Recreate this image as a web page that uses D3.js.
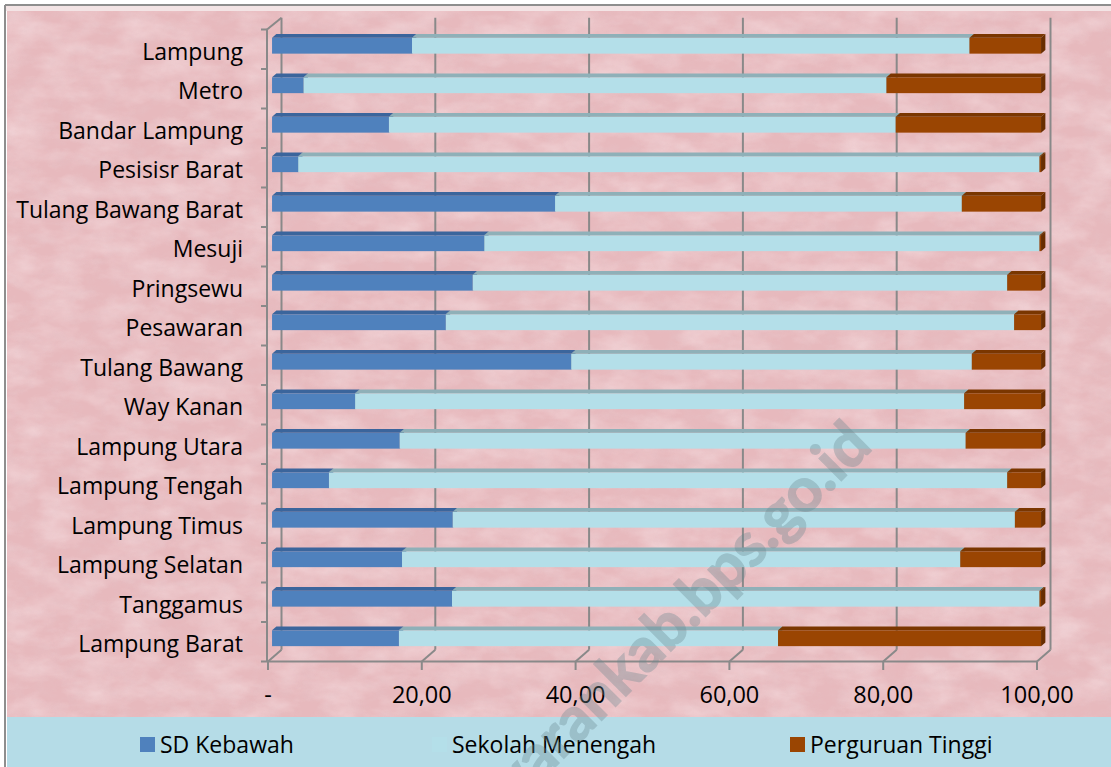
<!DOCTYPE html>
<html>
<head>
<meta charset="utf-8">
<script src="https://cdn.jsdelivr.net/npm/d3@7"></script>
<style>
  html, body { margin: 0; padding: 0; background: #ffffff; }
  svg { display: block; }
  text { font-family: "Open Sans", Lato, sans-serif; fill: #000; }
</style>
</head>
<body>
<svg id="chart" width="1111" height="767"></svg>
<script>
// Education level composition per regency/city (percent)
const categories = [
  "Lampung", "Metro", "Bandar Lampung", "Pesisisr Barat", "Tulang Bawang Barat",
  "Mesuji", "Pringsewu", "Pesawaran", "Tulang Bawang ", "Way Kanan",
  "Lampung Utara", "Lampung Tengah", "Lampung Timus", "Lampung Selatan",
  "Tanggamus", "Lampung Barat"
];
const sdKebawah       = [18.2, 4.1, 15.2, 3.4, 36.8, 27.6, 26.1, 22.6, 38.9, 10.8, 16.6, 7.4, 23.5, 16.9, 23.4, 16.5];
const sekolahMenengah = [72.5, 75.8, 65.9, 96.4, 52.9, 72.2, 69.5, 73.9, 52.1, 79.2, 73.6, 88.2, 73.1, 72.6, 76.4, 49.3];
const perguruanTinggi = [ 9.3, 20.1, 18.9, 0.2, 10.3, 0.2, 4.4, 3.5, 9.0, 10.0, 9.8, 4.4, 3.4, 10.5, 0.2, 34.2];
const seriesNames = ["SD Kebawah", "Sekolah Menengah", "Perguruan Tinggi"];
const xTicks = [0, 20, 40, 60, 80, 100];
const xTickLabels = ["-", "20,00", "40,00", "60,00", "80,00", "100,00"];

const W = 1111, H = 767;
const svg = d3.select("#chart");

// colours: front face, top face, side face
const palette = [
  { front: "#4f81bd", top: "#3b659c", side: "#345a8c" },
  { front: "#b4dfe9", top: "#8fb0b8", side: "#7f9ea6" },
  { front: "#9a4502", top: "#7a3600", side: "#682d00" }
];

// ---- background: framed, textured pink panel + legend band ----
const defs = svg.append("defs");
const tex = defs.append("filter").attr("id", "marble")
  .attr("x", 0).attr("y", 0).attr("width", "100%").attr("height", "100%");
tex.append("feTurbulence").attr("type", "fractalNoise")
  .attr("baseFrequency", "0.025 0.05").attr("numOctaves", 4).attr("seed", 3).attr("result", "n");
tex.append("feColorMatrix").attr("in", "n").attr("type", "matrix")
  .attr("values", "0 0 0 0 0.97  0 0 0 0 0.85  0 0 0 0 0.87  1.3 0 0 0 -0.45");
const tex2 = defs.append("filter").attr("id", "grain")
  .attr("x", 0).attr("y", 0).attr("width", "100%").attr("height", "100%");
tex2.append("feTurbulence").attr("type", "fractalNoise")
  .attr("baseFrequency", "0.06 0.09").attr("numOctaves", 3).attr("seed", 11).attr("result", "n");
tex2.append("feColorMatrix").attr("in", "n").attr("type", "matrix")
  .attr("values", "0 0 0 0 0.78  0 0 0 0 0.55  0 0 0 0 0.58  1.2 0 0 0 -0.5");

const panel = { x: 7, y: 11, w: W - 7, h: 717 - 11 };
svg.append("rect").attr("x", panel.x).attr("y", panel.y).attr("width", panel.w).attr("height", panel.h)
  .attr("fill", "#e7b9bd");
svg.append("rect").attr("x", panel.x).attr("y", panel.y).attr("width", panel.w).attr("height", panel.h)
  .attr("fill", "#fff").attr("filter", "url(#marble)").attr("opacity", 0.6);
svg.append("rect").attr("x", panel.x).attr("y", panel.y).attr("width", panel.w).attr("height", panel.h)
  .attr("fill", "#fff").attr("filter", "url(#grain)").attr("opacity", 0.6);
svg.append("rect").attr("x", panel.x).attr("y", 717).attr("width", panel.w).attr("height", H - 717)
  .attr("fill", "#b5dce7");
svg.append("rect").attr("x", 5).attr("y", 5).attr("width", W).attr("height", 6).attr("fill", "#f3e4e5");
svg.append("line").attr("x1", 5).attr("x2", W).attr("y1", 5).attr("y2", 5)
  .attr("stroke", "#8e8e8e").attr("stroke-width", 2);
svg.append("line").attr("x1", 5).attr("x2", 5).attr("y1", 5).attr("y2", H)
  .attr("stroke", "#8e8e8e").attr("stroke-width", 2);

// ---- 3D plot geometry ----
const front = { left: 268, right: 1037, top: 29.5, bottom: 661.5 };
const depth = { dx: 13.5, dy: -11.7 };
const barDepth0 = 0.3, barDepth1 = 0.62;

const x = d3.scaleLinear().domain([0, 100]).range([front.left, front.right]);
const y = d3.scaleBand().domain(categories).range([front.top, front.bottom]).paddingInner(0.6).paddingOuter(0.3);
const yBand = d3.scaleBand().domain(categories).range([front.top, front.bottom]);

const grid = svg.append("g").attr("stroke", "#898989").attr("stroke-width", 2).attr("fill", "none");

// back wall gridlines
grid.selectAll("line.back").data(xTicks).join("line")
  .attr("x1", d => x(d) + depth.dx).attr("x2", d => x(d) + depth.dx)
  .attr("y1", front.top + depth.dy).attr("y2", front.bottom + depth.dy);
// floor edges from front ticks to back wall
grid.selectAll("line.floor").data(xTicks).join("line")
  .attr("x1", d => x(d)).attr("x2", d => x(d) + depth.dx)
  .attr("y1", front.bottom).attr("y2", front.bottom + depth.dy);
// front floor edge and ticks
grid.append("line").attr("x1", front.left - 1).attr("x2", front.right)
  .attr("y1", front.bottom).attr("y2", front.bottom);
grid.selectAll("line.xt").data(xTicks).join("line")
  .attr("x1", d => x(d)).attr("x2", d => x(d))
  .attr("y1", front.bottom).attr("y2", front.bottom + 8.5);
// left wall: front vertical axis, top edge
grid.append("line").attr("x1", front.left - 1).attr("x2", front.left - 1)
  .attr("y1", front.top).attr("y2", front.bottom);
grid.append("line").attr("x1", front.left - 1).attr("x2", front.left + depth.dx)
  .attr("y1", front.top).attr("y2", front.top + depth.dy);
// category ticks
const catBounds = categories.map(c => yBand(c)).concat([front.bottom]);
grid.selectAll("line.yt").data(catBounds).join("line")
  .attr("x1", front.left - 7).attr("x2", front.left - 1)
  .attr("y1", d => d).attr("y2", d => d);

// ---- stacked 3D bars ----
const rows = categories.map((c, i) => ({ cat: c, vals: [sdKebawah[i], sekolahMenengah[i], perguruanTinggi[i]] }));
const ox = barDepth0 * depth.dx, oy = barDepth0 * depth.dy;
const ddx = (barDepth1 - barDepth0) * depth.dx, ddy = (barDepth1 - barDepth0) * depth.dy;

const bars = svg.append("g");
rows.forEach(r => {
  let acc = 0;
  const y0 = y(r.cat) + oy, y1 = y0 + y.bandwidth();
  r.vals.forEach((v, k) => {
    const xa = x(acc) + ox, xb = x(acc + v) + ox;
    acc += v;
    const g = bars.append("g");
    g.append("rect").attr("x", xa).attr("y", y0).attr("width", xb - xa).attr("height", y1 - y0)
      .attr("fill", palette[k].front);
    g.append("polygon")
      .attr("points", [[xa, y0], [xb, y0], [xb + ddx, y0 + ddy], [xa + ddx, y0 + ddy]].join(" "))
      .attr("fill", palette[k].top);
    g.append("polygon")
      .attr("points", [[xb, y0], [xb + ddx, y0 + ddy], [xb + ddx, y1 + ddy], [xb, y1]].join(" "))
      .attr("fill", palette[k].side);
  });
});

// ---- axis labels ----
svg.append("g").selectAll("text").data(categories).join("text")
  .attr("x", 243).attr("y", d => yBand(d) + yBand.bandwidth() / 2 + 10.5)
  .attr("text-anchor", "end").attr("font-size", 23).text(d => d);

svg.append("g").selectAll("text").data(xTicks).join("text")
  .attr("x", d => x(d)).attr("y", 703)
  .attr("text-anchor", "middle").attr("font-size", 23.5).text((d, i) => xTickLabels[i]);

// ---- legend ----
const legendPos = [140, 432, 790];
const lg = svg.append("g");
seriesNames.forEach((name, k) => {
  lg.append("rect").attr("x", legendPos[k]).attr("y", 737).attr("width", 15).attr("height", 15)
    .attr("fill", palette[k].front);
  lg.append("text").attr("x", legendPos[k] + 20).attr("y", 752.5).attr("font-size", 23).text(name);
});

// ---- site watermark ----
svg.append("text").attr("transform", "translate(874,448) rotate(-45)")
  .attr("text-anchor", "end").attr("font-size", 61).attr("font-weight", "bold")
  .style("font-family", "Lato, sans-serif")
  .style("fill", "#6a8890").style("stroke", "#6a8890").style("stroke-width", 1.5)
  .attr("opacity", 0.34)
  .text("pesawarankab.bps.go.id");
</script>
</body>
</html>
